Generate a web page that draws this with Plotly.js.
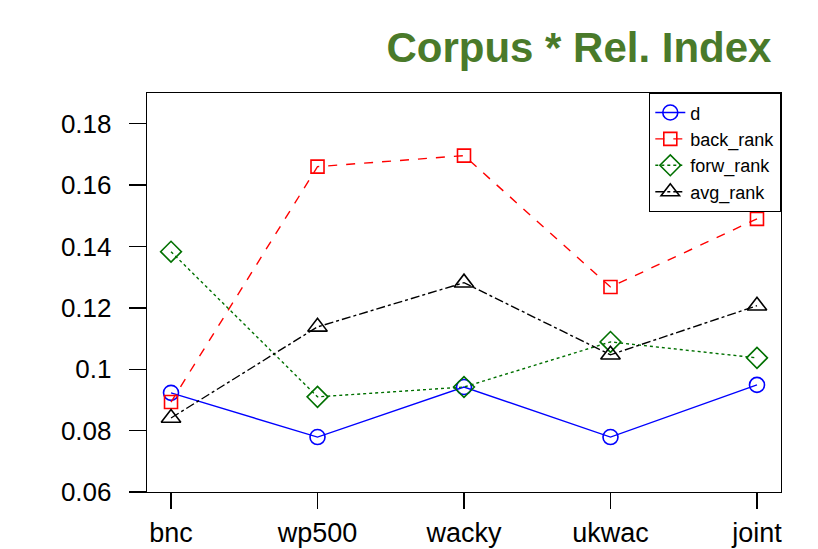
<!DOCTYPE html>
<html>
<head>
<meta charset="utf-8">
<script src="https://cdn.plot.ly/plotly-3.0.1.min.js"></script>
<style>html,body{margin:0;padding:0;background:#fff;}#chart{width:818px;height:549px;}</style>
</head>
<body>
<div id="chart"></div>
<script>
const categories = ["bnc", "wp500", "wacky", "ukwac", "joint"];
const dVals = [0.0923, 0.0779, 0.0942, 0.0779, 0.0949];
const backRank = [0.0893, 0.1660, 0.1696, 0.1268, 0.1490];
const forwRank = [0.1383, 0.0910, 0.0942, 0.1089, 0.1037];
const avgRank = [0.0841, 0.1138, 0.1282, 0.1047, 0.1207];
const yTicks = [0.06, 0.08, 0.1, 0.12, 0.14, 0.16, 0.18];
const yTickText = ["0.06", "0.08", "0.1", "0.12", "0.14", "0.16", "0.18"];

const xIdx = categories.map((_, i) => i);

const traces = [
  {name: "d", y: dVals, color: "#0000ff", dash: "solid", symbol: "circle-open", size: 15},
  {name: "back_rank", y: backRank, color: "#ff0000", dash: "dash", symbol: "square-open", size: 13},
  {name: "forw_rank", y: forwRank, color: "#007000", dash: "dot", symbol: "diamond-open", size: 16},
  {name: "avg_rank", y: avgRank, color: "#000000", dash: "dashdot", symbol: "triangle-up-open", size: 17}
].map(t => ({
  type: "scatter", mode: "lines+markers", name: t.name,
  x: xIdx, y: t.y,
  line: {color: t.color, dash: t.dash, width: 1.4},
  marker: {symbol: t.symbol, size: t.size, color: t.color, line: {color: t.color, width: 1.6}}
}));

const layout = {
  width: 818, height: 549,
  margin: {l: 147, r: 37, t: 93, b: 57},
  paper_bgcolor: "#ffffff", plot_bgcolor: "#ffffff",
  font: {family: "Liberation Sans, Arial, sans-serif", color: "#000"},
  showlegend: true,
  title: {
    text: "<b>Corpus * Rel. Index</b>",
    font: {size: 42, color: "#4a7a2a", family: "Liberation Sans, Arial, sans-serif"},
    xref: "paper", x: 0.985, xanchor: "right",
    yref: "container", y: 0.914, yanchor: "middle"
  },
  xaxis: {
    range: [-0.164, 4.164],
    tickmode: "array", tickvals: xIdx, ticktext: categories,
    ticks: "outside", ticklen: 16, tickwidth: 1.3, tickcolor: "#000",
    showline: true, mirror: true, linecolor: "#000", linewidth: 1.3,
    showgrid: false, zeroline: false,
    tickfont: {size: 27, color: "#000"}, ticklabelstandoff: 0
  },
  yaxis: {
    range: [0.06, 0.19],
    tickmode: "array", tickvals: yTicks, ticktext: yTickText,
    ticks: "outside", ticklen: 17, tickwidth: 1.3, tickcolor: "#000",
    showline: true, mirror: true, linecolor: "#000", linewidth: 1.3,
    showgrid: false, zeroline: false,
    tickfont: {size: 26, color: "#000"}, ticklabelstandoff: 12
  },
  legend: {
    x: 1, xanchor: "right", y: 1, yanchor: "top",
    bordercolor: "#000", borderwidth: 1.3, bgcolor: "#fff",
    font: {size: 18, color: "#000"}, tracegroupgap: 0,
    itemwidth: 30
  }
};

Plotly.newPlot("chart", traces, layout, {displayModeBar: false, staticPlot: true});
</script>
</body>
</html>
